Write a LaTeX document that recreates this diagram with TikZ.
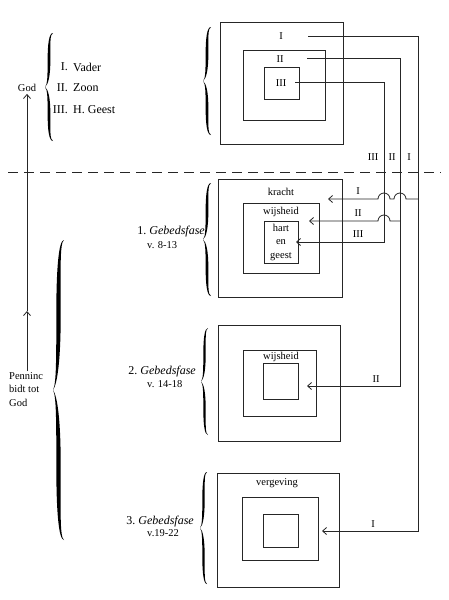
\documentclass[tikz,border=0pt]{standalone}
\usepackage{fontspec}
\setmainfont{Liberation Serif}
\usetikzlibrary{arrows.meta}
\begin{document}
\begin{tikzpicture}[x=1pt,y=-1pt,
  box/.style={draw=black!85, line width=1pt, inner sep=0pt},
  lbl/.style={font=\fontsize{10.5}{12}\selectfont, inner sep=0pt},
  side/.style={font=\fontsize{10.5}{13}\selectfont, inner sep=0pt},
  big/.style={font=\fontsize{12}{14}\selectfont, inner sep=0pt},
  conn/.style={draw=black!85, line width=0.8pt},
  arr/.style={conn, -{Straight Barb[length=4pt,width=7pt]}},
  curly/.pic={
    \pgfmathsetmacro\bxl{0.5-#1}
    \pgfmathsetmacro\bxr{0.5+#1}
    \fill[black] (1,0) .. controls (0.5,0) and (\bxl,0.1) .. (\bxl,0.25)
      .. controls (\bxl,0.4) and (0.3,0.48) .. (0,0.5)
      .. controls (0.3,0.52) and (\bxl,0.6) .. (\bxl,0.75)
      .. controls (\bxl,0.9) and (0.5,1) .. (1,1)
      .. controls (0.6,0.99) and (\bxr,0.9) .. (\bxr,0.75)
      .. controls (\bxr,0.6) and (0.4,0.52) .. (0,0.5)
      .. controls (0.4,0.48) and (\bxr,0.4) .. (\bxr,0.25)
      .. controls (\bxr,0.1) and (0.6,0.01) .. (1,0) -- cycle;
  }
]
\useasboundingbox[fill=white] (0,0) rectangle (449,600);

% ---- top block (Trinity) ----
\node[box, minimum width=123pt, minimum height=122pt] (o0) at (281.5,83) {};
\node[box, minimum width=82pt, minimum height=70pt] (m0) at (284,85) {};
\node[box, minimum width=35pt, minimum height=32pt] (i0) at (281.5,83) {};
\node[lbl] (l0a) at (281,36) {I};
\node[lbl] (l0b) at (280,59) {II};
\node[lbl] (l0c) at (281,83) {III};

% ---- block 1 ----
\node[box, minimum width=124pt, minimum height=118pt] (o1) at (280,238) {};
\node[box, minimum width=76pt, minimum height=70pt] (m1) at (281,238) {};
\node[box, minimum width=34pt, minimum height=42pt] (i1) at (281,242) {};
\node[lbl] (k1) at (281,192) {kracht};
\node[lbl] (w1) at (281,212) {wijsheid};
\node[lbl, align=center, font=\fontsize{10.5}{13.5}\selectfont] (h1) at (281,242) {hart\\en\\geest};

% ---- block 2 ----
\node[box, minimum width=122pt, minimum height=116pt] (o2) at (279,383) {};
\node[box, minimum width=73pt, minimum height=66pt] (m2) at (279.5,383) {};
\node[box, minimum width=35pt, minimum height=36pt] (i2) at (280.5,381) {};
\node[lbl] (w2) at (281,357) {wijsheid};

% ---- block 3 ----
\node[box, minimum width=122pt, minimum height=114pt] (o3) at (278,530) {};
\node[box, minimum width=76pt, minimum height=63pt] (m3) at (280,528.5) {};
\node[box, minimum width=35pt, minimum height=33pt] (i3) at (280.5,530.5) {};
\node[lbl] (v3) at (277,483) {vergeving};

% ---- connector coordinates ----
\coordinate (sI) at (308,36);
\coordinate (sII) at (307,58);
\coordinate (sIII) at (295,82);
\coordinate (eI) at (418,531);
\coordinate (eII) at (400,386);
\coordinate (eIII) at (384,242);
\coordinate (tI3) at (322,531);
\coordinate (tII2) at (307,386);
\coordinate (tIII1) at (296,242);
\coordinate (bI) at (418,199);
\coordinate (bII) at (400,221);
\coordinate (tI1) at (328,199);
\coordinate (tII1) at (309,221);

\draw[arr] (sI) -| (eI) -- (tI3);
\draw[arr] (sII) -| (eII) -- (tII2);
\draw[arr] (sIII) -| (eIII) -- (tIII1);
\draw[arr] (bI) -- ++(-12,0) arc[start angle=0,end angle=180,radius=6pt]
   -- ++(-4,0) arc[start angle=0,end angle=180,radius=6pt] -- (tI1);
\draw[arr] (bII) -- ++(-10,0) arc[start angle=0,end angle=180,radius=6pt] -- (tII1);

% connector labels
\node[lbl] (c3) at (373,157) {III};
\node[lbl] (c2) at (392,157) {II};
\node[lbl] (c1) at (409,157) {I};
\node[lbl] (a1) at (358,191) {I};
\node[lbl] (a2) at (358,213) {II};
\node[lbl] (a3) at (358,234) {III};
\node[lbl] (a4) at (376,379) {II};
\node[lbl] (a5) at (373,524) {I};

% ---- dashed divider ----
\coordinate (dl) at (8,172);
\coordinate (dr) at (441,172);
\draw[conn, dash pattern=on 10pt off 6pt] (dl) -- (dr);

% ---- left side texts ----
\node[big, anchor=east] (n1) at (68,67) {I.};
\node[big, anchor=east] (n2) at (68,88) {II.};
\node[big, anchor=east] (n3) at (68,110) {III.};
\node[big, anchor=west] (p1) at (73,67) {Vader};
\node[big, anchor=west] (p2) at (73,88) {Zoon};
\node[big, anchor=west] (p3) at (73,110) {H. Geest};

\node[side] (god) at (27,88) {God};
\node[side, anchor=north west, align=left, font=\fontsize{10.5}{13.5}\selectfont] (penn) at (9,372) {Penninc\\bidt tot\\God};
\coordinate (pstart) at (27,371);
\coordinate (pmid) at (27,311);
\draw[arr] (pstart) -- (pmid);
\draw[arr] (pmid) -- ([yshift=-2pt]god.south);

\node[big, anchor=east] (g1) at (205,232) {1.\ \textit{Gebedsfase}};
\node[side, anchor=west] (r1) at (147,245) {v. 8-13};
\node[big, anchor=east] (g2) at (196,372) {2.\ \textit{Gebedsfase}};
\node[side, anchor=west] (r2) at (147,384) {v. 14-18};
\node[big, anchor=east] (g3) at (194,522) {3.\ \textit{Gebedsfase}};
\node[side, anchor=west] (r3) at (147,533) {v.19-22};

% ---- braces ----
\pic[xscale=8, yscale=108] at (45,33) {curly=0.17};
\pic[xscale=8, yscale=108] at (203,27) {curly=0.17};
\pic[xscale=8, yscale=113] at (203,183) {curly=0.17};
\pic[xscale=7, yscale=107] at (201,328) {curly=0.17};
\pic[xscale=7, yscale=112] at (200,472) {curly=0.17};
\pic[xscale=11, yscale=300] at (53,240) {curly=0.2};
\end{tikzpicture}
\end{document}
